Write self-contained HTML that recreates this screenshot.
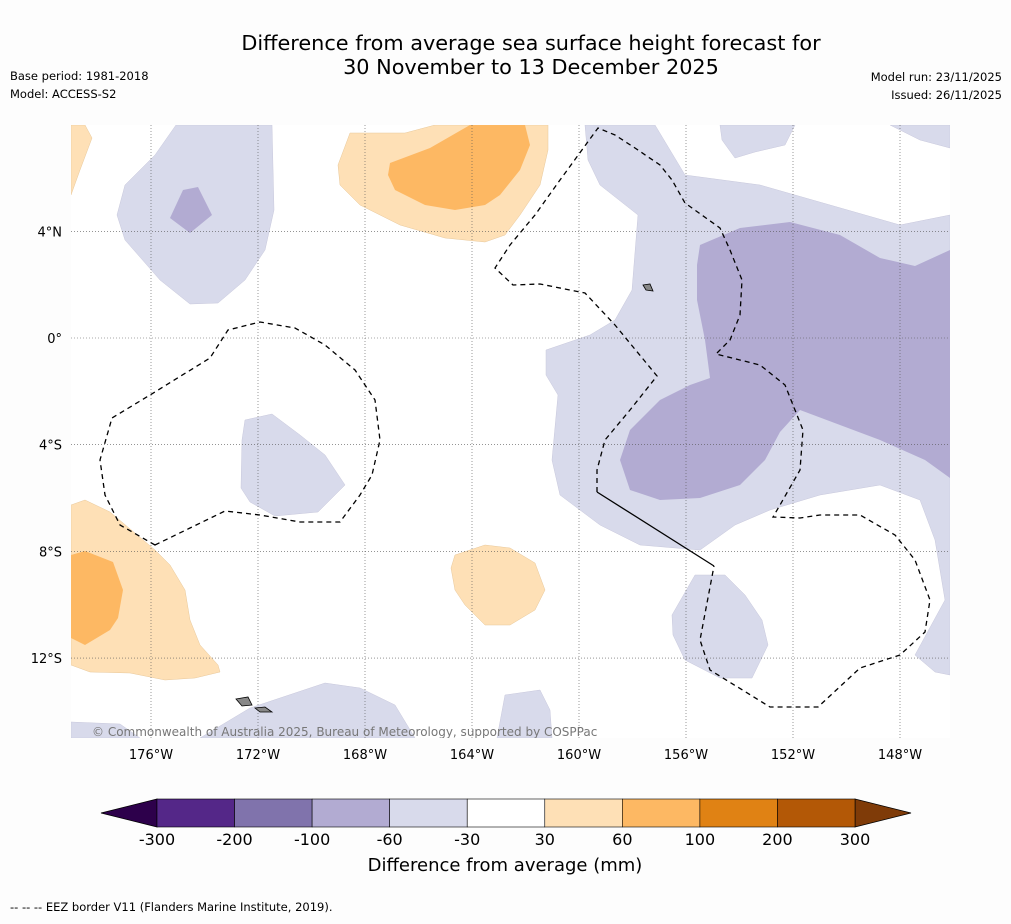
<!DOCTYPE html>
<html><head><meta charset="utf-8"><style>
body{margin:0;background:#fdfdfd;font-family:"Liberation Sans","DejaVu Sans",sans-serif;}
svg text{font-family:"DejaVu Sans","Liberation Sans",sans-serif;}
</style></head><body>
<svg id="chart" width="1011" height="919" viewBox="0 0 1011 919" xmlns="http://www.w3.org/2000/svg">
<rect width="1011" height="919" fill="#fdfdfd"/>
<text x="531" y="50" font-size="20.8" text-anchor="middle" fill="#000">Difference from average sea surface height forecast for</text>
<text x="531" y="74" font-size="20.8" text-anchor="middle" fill="#000">30 November to 13 December 2025</text>
<text x="10" y="80" font-size="11.5">Base period: 1981-2018</text>
<text x="10" y="98" font-size="11.5">Model: ACCESS-S2</text>
<text x="1002" y="81" font-size="11.5" text-anchor="end">Model run: 23/11/2025</text>
<text x="1002" y="99" font-size="11.5" text-anchor="end">Issued: 26/11/2025</text>
<defs><clipPath id="mapclip"><rect x="71" y="125" width="879" height="613"/></clipPath></defs>
<g clip-path="url(#mapclip)">
<rect x="71" y="125" width="879" height="613" fill="#fff"/>
<g fill="#d8daeb" stroke="#c8c8dc" stroke-width="0.5">
<path d="M176,125 L272,125 L274,210 L265,250 L245,280 L218,303 L190,304 L160,280 L125,240 L117,215 L125,185 L155,155 Z"/>
<path d="M585,125 L655,125 L685,175 L760,185 L830,205 L900,225 L950,215 L950,675 L935,672 L915,655 L945,600 L935,540 L920,500 L880,485 L820,495 L770,510 L735,525 L700,550 L640,545 L600,525 L560,495 L552,460 L558,395 L546,375 L546,350 L590,335 L615,320 L632,290 L638,215 L600,185 L588,160 Z"/>
<path d="M245,420 L272,414 L300,435 L325,455 L345,485 L318,512 L275,516 L250,502 L241,488 L242,440 Z"/>
<path d="M695,575 L725,575 L745,595 L762,620 L768,645 L752,678 L720,678 L685,660 L673,635 L672,615 Z"/>
<path d="M71,722 L120,724 L140,738 L71,738 Z"/>
<path d="M200,738 L250,708 L325,683 L360,688 L395,705 L415,738 Z"/>
<path d="M497,738 L505,695 L540,690 L550,710 L552,738 Z"/>
<path d="M720,125 L795,125 L785,145 L755,152 L735,158 L722,140 Z"/>
<path d="M890,125 L950,125 L950,148 L920,140 Z"/>
</g>
<g fill="#b2abd2">
<path d="M183,190 L198,187 L212,215 L190,233 L170,218 Z"/>
<path d="M700,245 L740,228 L790,222 L840,235 L880,258 L915,266 L950,250 L950,478 L925,460 L880,440 L840,425 L800,410 L780,432 L765,460 L740,485 L700,498 L660,500 L630,490 L620,460 L630,430 L660,400 L690,385 L710,378 L705,340 L697,300 L697,265 Z"/>
</g>
<g fill="#fee0b6" stroke="#e8c89a" stroke-width="0.5">
<path d="M350,133 L405,133 L435,125 L548,125 L548,150 L540,185 L520,215 L505,235 L485,242 L445,238 L400,225 L360,205 L340,185 L338,165 Z"/>
<path d="M71,125 L85,125 L92,138 L80,170 L71,195 Z"/>
<path d="M71,505 L85,500 L110,512 L155,550 L170,565 L185,590 L190,620 L200,645 L218,665 L220,672 L195,678 L165,680 L130,673 L90,672 L71,665 Z"/>
<path d="M455,555 L485,545 L510,548 L535,563 L545,590 L535,610 L510,625 L485,625 L465,605 L455,590 L451,568 Z"/>
</g>
<g fill="#fdb863">
<path d="M390,163 L430,148 L470,125 L525,125 L530,145 L520,170 L500,195 L485,205 L455,210 L425,205 L395,190 L388,175 Z"/>
<path d="M71,555 L85,551 L113,562 L123,590 L118,618 L110,630 L85,645 L71,638 Z"/>
</g>
<g id="grid" stroke="#555" stroke-width="0.6" stroke-dasharray="1,2"></g>
<g fill="none" stroke="#000" stroke-width="1.3" stroke-dasharray="5,4">
<path d="M597,492 L597,470 L605,440 L630,410 L657,376 L615,325 L585,293 L540,284 L513,285 L495,268 L510,245 L535,215 L560,180 L598,128 L615,135 L635,148 L660,165 L672,180 L685,203 L720,228 L730,250 L742,280 L740,315 L730,340 L716,354 L760,365 L785,385 L803,430 L800,470 L780,505 L773,517 L800,518 L820,515 L860,515 L895,535 L915,560 L930,600 L925,632 L900,655 L860,668 L818,707 L770,707 L710,670 L700,640 L714,566"/>
<path d="M155,545 L120,525 L105,495 L100,460 L112,418 L150,395 L210,358 L228,330 L260,322 L295,328 L325,345 L355,370 L375,400 L380,440 L372,475 L360,495 L340,522 L300,522 L260,515 L225,511 L190,528 Z"/>
</g>
<path d="M597,492 L714,566" stroke="#000" stroke-width="1.3" fill="none"/>
<g fill="#888" stroke="#000" stroke-width="0.8">
<path d="M236,699 L248,697 L252,705 L242,706 Z"/><path d="M255,708 L265,707 L272,712 L260,712 Z"/>
<path d="M643,285 L650,284 L653,291 L646,290 Z"/>
</g>
<text x="92" y="736" font-size="12" fill="#777">© Commonwealth of Australia 2025, Bureau of Meteorology, supported by COSPPac</text>
</g>
<g id="axes"></g>
<g id="cbar"></g>
<text x="505" y="871" font-size="18" text-anchor="middle">Difference from average (mm)</text>
<text x="10" y="911" font-size="11.5">-- -- -- EEZ border V11 (Flanders Marine Institute, 2019).</text>
</svg>
<script>
const lonTicks=[-176,-172,-168,-164,-160,-156,-152,-148];
const latTicks=[4,0,-4,-8,-12];
const levels=[-300,-200,-100,-60,-30,30,60,100,200,300];
const levelColors=["#542788","#8073ac","#b2abd2","#d8daeb","#ffffff","#fee0b6","#fdb863","#e08214","#b35806"];
const NS="http://www.w3.org/2000/svg";
function xOf(lon){return 151+(lon+176)*26.75;}
function yOf(lat){return 338-lat*26.67;}
function mk(t,a,p){const e=document.createElementNS(NS,t);for(const k in a)e.setAttribute(k,a[k]);p.appendChild(e);return e;}
const grid=document.getElementById('grid'),axes=document.getElementById('axes'),cb=document.getElementById('cbar');
lonTicks.forEach(l=>{const x=xOf(l);
const g=mk('line',{x1:x,x2:x,y1:125,y2:738},grid);

const t=mk('text',{x:x,y:759,'font-size':13,'text-anchor':'middle'},axes);t.textContent=Math.abs(l)+'°W';
});
latTicks.forEach(l=>{const y=yOf(l);
const g=mk('line',{x1:71,x2:950,y1:y,y2:y},grid);

const t=mk('text',{x:62,y:y+5,'font-size':13,'text-anchor':'end'},axes);t.textContent=l===0?'0°':Math.abs(l)+'°'+(l>0?'N':'S');
});
const cx0=157,cx1=855,cy=799,ch=28,sw=(cx1-cx0)/levelColors.length;
const lt=mk('path',{d:`M${cx0},${cy} L101,${cy+ch/2} L${cx0},${cy+ch} Z`,fill:'#2d004b',stroke:'#000','stroke-width':0.8},cb);

const rt=mk('path',{d:`M${cx1},${cy} L911,${cy+ch/2} L${cx1},${cy+ch} Z`,fill:'#7f3b08',stroke:'#000','stroke-width':0.8},cb);

levelColors.forEach((c,i)=>{const r=mk('rect',{x:cx0+i*sw,y:cy,width:sw,height:ch,fill:c,stroke:'#000','stroke-width':0.6},cb);
});
levels.forEach((v,i)=>{const t=mk('text',{x:cx0+i*sw,y:845,'font-size':16,'text-anchor':'middle'},cb);t.textContent=v;
});
</script>
</body></html>
